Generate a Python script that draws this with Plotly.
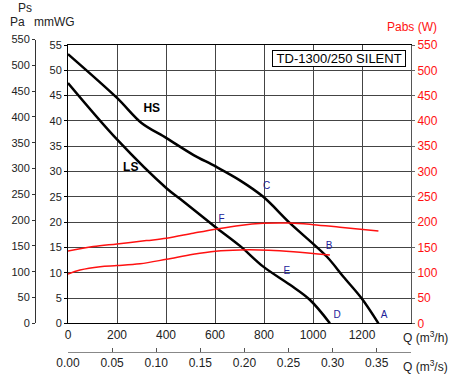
import plotly.graph_objects as go

# ---- data ----
q_hs = [0, 201, 300, 402, 511, 602, 700, 797, 906, 1056, 1124, 1199, 1267]
ps_hs = [53.2, 44.5, 39.6, 36.6, 33.3, 31.0, 28.3, 25.0, 19.8, 13.2, 9.2, 4.9, 0]

q_ls = [0, 201, 402, 457, 600, 702, 797, 906, 988, 1069]
ps_ls = [47.5, 36.3, 26.7, 24.6, 19.1, 15.3, 11.2, 7.6, 4.6, 0]

q_pw_hs = [0, 103, 200, 320, 402, 511, 602, 702, 797, 906, 1001, 1110, 1267]
w_hs = [143, 151.6, 156.9, 163.4, 168, 178, 186, 193.5, 197.5, 198.0, 195.0, 190, 182.6]

q_pw_ls = [0, 49, 131, 200, 294, 402, 511, 602, 702, 820, 920, 1069]
w_ls = [97.5, 105.4, 112, 114, 117.5, 126.6, 136.5, 142.5, 145, 144.5, 141.6, 135]

pt_text = ["A", "B", "C", "D", "E", "F"]
pt_q = [1290, 1066, 811, 1098, 893, 627]
pt_ps = [1.5, 15.1, 27.0, 1.5, 10.2, 20.5]

curve_text = ["HS", "LS"]
curve_q = [342, 256]
curve_ps = [42.4, 30.6]

q_h_ticks = [0, 200, 400, 600, 800, 1000, 1200]
q_s_ticks = [0.00, 0.05, 0.10, 0.15, 0.20, 0.25, 0.30, 0.35]
mm_ticks = list(range(0, 56, 5))
pa_ticks = list(range(0, 551, 50))
w_ticks = list(range(0, 551, 50))

title_text = "TD-1300/250 SILENT"

# ---- layout geometry ----
W, H = 450, 375
ML, MR, MT, MB = 30, 39, 30, 15
PW, PH = W - ML - MR, H - MT - MB


def fx(px):
    return (px - ML) / PW


def fy(py):
    return (H - MB - py) / PH


y_bot, y_top = fy(323.3), fy(45)
pa_top = fy(323.3 - (550 / 9.81) * (323.3 - 45) / 55)

FONT = "Liberation Sans, Arial, sans-serif"
TXT = "#222222"
RED = "#ff1111"
BLUE = "#22229a"

fig = go.Figure()

fig.add_trace(go.Scatter(x=q_pw_hs, y=w_hs, yaxis="y2", mode="lines",
                         line=dict(color=RED, width=1.5, shape="spline", smoothing=1.0),
                         hoverinfo="skip", showlegend=False))
fig.add_trace(go.Scatter(x=q_pw_ls, y=w_ls, yaxis="y2", mode="lines",
                         line=dict(color=RED, width=1.5, shape="spline", smoothing=1.0),
                         hoverinfo="skip", showlegend=False))
fig.add_trace(go.Scatter(x=q_hs, y=ps_hs, mode="lines",
                         line=dict(color="black", width=2.5, shape="spline", smoothing=0.9),
                         hoverinfo="skip", showlegend=False))
fig.add_trace(go.Scatter(x=q_ls, y=ps_ls, mode="lines",
                         line=dict(color="black", width=2.5, shape="spline", smoothing=1.0),
                         hoverinfo="skip", showlegend=False))
# point letters
fig.add_trace(go.Scatter(x=pt_q, y=pt_ps, mode="text", text=pt_text,
                         textfont=dict(family=FONT, size=10, color=BLUE),
                         hoverinfo="skip", showlegend=False))
# HS / LS
fig.add_trace(go.Scatter(x=curve_q, y=curve_ps, mode="text",
                         text=["<b>%s</b>" % t for t in curve_text],
                         textfont=dict(family=FONT, size=12, color="black"),
                         hoverinfo="skip", showlegend=False))
# invisible trace so the Pa axis and the m3/s axis are drawn (own subplot x2-y3)
fig.add_trace(go.Scatter(x=[0], y=[0], xaxis="x2", yaxis="y3", mode="markers",
                         marker=dict(size=1, opacity=0), hoverinfo="skip", showlegend=False))

GRID = "#444444"
fig.update_layout(
    template="none",
    width=W, height=H,
    margin=dict(l=ML, r=MR, t=MT, b=MB, pad=0),
    paper_bgcolor="white", plot_bgcolor="rgba(0,0,0,0)",
    font=dict(family=FONT, color=TXT, size=12),
    showlegend=False,
    xaxis=dict(domain=[fx(68), 1.0], range=[0, 1400], anchor="y",
               tickvals=q_h_ticks, ticktext=[str(v) for v in q_h_ticks],
               showgrid=True, gridcolor=GRID, gridwidth=1,
               showline=True, linecolor="black", linewidth=1, mirror=True,
               ticks="", zeroline=False, tickfont=dict(size=12, color=TXT)),
    xaxis2=dict(domain=[fx(68), 1.0], range=[0, 1400 / 3600],
                anchor="free", position=fy(352), side="bottom",
                tickvals=q_s_ticks, ticktext=["%.2f" % v for v in q_s_ticks],
                showgrid=False, zeroline=False, showline=True, linecolor="#888888",
                linewidth=1, ticks="inside", ticklen=4, tickcolor="#555555",
                tickfont=dict(size=12, color=TXT)),
    yaxis=dict(domain=[y_bot, y_top], range=[0, 55], anchor="x",
               tickvals=mm_ticks, showgrid=True, gridcolor=GRID, gridwidth=1,
               showline=True, linecolor="black", linewidth=1, mirror=True,
               ticks="outside", ticklen=3, tickcolor="black", zeroline=False,
               tickfont=dict(size=11, color=TXT)),
    yaxis2=dict(range=[0, 550], overlaying="y", side="right",
                anchor="x", tickvals=w_ticks, showgrid=False, zeroline=False,
                showline=True, linecolor="#555555", ticks="outside", ticklen=3,
                tickcolor="#666666", tickfont=dict(size=12, color=RED)),
    yaxis3=dict(domain=[y_bot, pa_top], range=[0, 550], anchor="free",
                position=fx(35), side="left", tickvals=pa_ticks,
                showgrid=False, zeroline=False, showline=True, linecolor="#333333",
                ticks="outside", ticklen=3, tickcolor="#333333",
                tickfont=dict(size=11, color=TXT)),
)

ann = [
    dict(text="Ps", x=fx(25), y=fy(8)),
    dict(text="Pa", x=fx(17), y=fy(22)),
    dict(text="mmWG", x=fx(54), y=fy(22)),
    dict(text="Pabs (W)", x=fx(412), y=fy(27), font=dict(color=RED, size=12, family=FONT)),
    dict(text="Q (m<sup>3</sup>/h)", x=fx(401), y=fy(337), xanchor="left"),
    dict(text="Q (m<sup>3</sup>/s)", x=fx(401), y=fy(366), xanchor="left"),
]
for a in ann:
    a.setdefault("xanchor", "center")
    a.setdefault("font", dict(color=TXT, size=12, family=FONT))
    fig.add_annotation(xref="paper", yref="paper", yanchor="middle",
                       showarrow=False, **a)

fig.add_annotation(xref="paper", yref="paper", x=fx(339), y=fy(58),
                   xanchor="center", yanchor="middle", showarrow=False,
                   text="\u00a0" + title_text + "\u00a0",
                   font=dict(family=FONT, size=13, color="black"),
                   bordercolor="black", borderwidth=1, borderpad=0, bgcolor="white")

fig.write_html("out.html", config={"displayModeBar": False},
               post_script="document.body.style.margin='0';")
